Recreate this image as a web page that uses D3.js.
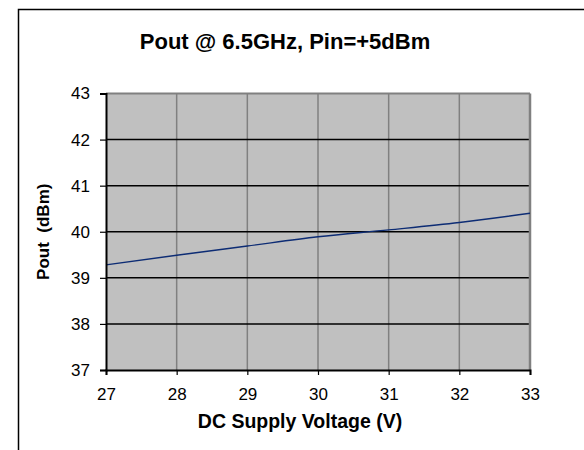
<!DOCTYPE html>
<html>
<head>
<meta charset="utf-8">
<script src="https://cdn.jsdelivr.net/npm/d3@7"></script>
<style>
  html, body { margin: 0; padding: 0; background: #fff; }
  svg { display: block; font-family: "Liberation Sans", Arial, sans-serif; }
</style>
</head>
<body>
<svg id="chart" width="584" height="450"></svg>
<script>
const voltages = [27, 28, 29, 30, 31, 32, 33];
const poutValues = [39.28, 39.49, 39.69, 39.89, 40.04, 40.2, 40.4];
const xTicks = [27, 28, 29, 30, 31, 32, 33];
const yTicks = [37, 38, 39, 40, 41, 42, 43];
const titleText = "Pout @ 6.5GHz, Pin=+5dBm";
const xTitle = "DC Supply Voltage (V)";
const yTitle = "Pout  (dBm)";

const svg = d3.select("#chart");
const plot = { left: 106, right: 530, top: 93.5, bottom: 370 };

// outer chart frame (cut off at right and bottom)
svg.append("rect")
  .attr("x", 18.5).attr("y", 9.5)
  .attr("width", 620).attr("height", 500)
  .attr("fill", "#fff").attr("stroke", "#000").attr("stroke-width", 1.5);

const x = d3.scaleLinear().domain([27, 33]).range([plot.left, plot.right]);
const y = d3.scaleLinear().domain([37, 43]).range([plot.bottom, plot.top]);

// plot background
svg.append("rect")
  .attr("x", plot.left).attr("y", plot.top)
  .attr("width", plot.right - plot.left).attr("height", plot.bottom - plot.top)
  .attr("fill", "#c0c0c0");

// vertical gridlines (gray)
svg.append("g").selectAll("line").data(xTicks.slice(1, -1)).join("line")
  .attr("x1", d => x(d)).attr("x2", d => x(d))
  .attr("y1", plot.top).attr("y2", plot.bottom)
  .attr("stroke", "#808080").attr("stroke-width", 1.5);

// horizontal gridlines (black)
svg.append("g").selectAll("line").data(yTicks.slice(1, -1)).join("line")
  .attr("x1", plot.left).attr("x2", plot.right)
  .attr("y1", d => y(d)).attr("y2", d => y(d))
  .attr("stroke", "#000").attr("stroke-width", 1.5);

// plot border top & right (gray)
svg.append("line").attr("x1", plot.left).attr("x2", plot.right)
  .attr("y1", plot.top).attr("y2", plot.top)
  .attr("stroke", "#808080").attr("stroke-width", 2);
svg.append("line").attr("x1", plot.right).attr("x2", plot.right)
  .attr("y1", plot.top).attr("y2", plot.bottom)
  .attr("stroke", "#808080").attr("stroke-width", 2.5);

// data line
const line = d3.line().x((d, i) => x(voltages[i])).y(d => y(d)).curve(d3.curveMonotoneX);
svg.append("path").datum(poutValues)
  .attr("d", line)
  .attr("fill", "none").attr("stroke", "#0d2c74").attr("stroke-width", 1.4);

// axes
const xAxis = d3.axisBottom(x).tickValues(xTicks).tickSize(5).tickPadding(13).tickFormat(d3.format("d"));
const yAxis = d3.axisLeft(y).tickValues(yTicks).tickSize(6).tickPadding(10).tickFormat(d3.format("d"));

const gx = svg.append("g").attr("transform", `translate(0,${plot.bottom})`).call(xAxis);
const gy = svg.append("g").attr("transform", `translate(${plot.left},0)`).call(yAxis);
[gx, gy].forEach(g => {
  g.select(".domain").attr("stroke", "#000").attr("stroke-width", 2);
  g.selectAll(".tick line").attr("stroke", "#000").attr("stroke-width", 1.2);
  g.selectAll(".tick text")
    .attr("fill", "#000")
    .style("font-family", "'Liberation Sans', Arial, sans-serif")
    .style("font-size", "17px");
});

// title
svg.append("text")
  .attr("x", 285).attr("y", 49)
  .attr("text-anchor", "middle")
  .style("font-size", "22px").style("font-weight", "bold")
  .text(titleText);

// x axis title
svg.append("text")
  .attr("x", 300).attr("y", 428)
  .attr("text-anchor", "middle")
  .style("font-size", "19.5px").style("font-weight", "bold")
  .text(xTitle);

// y axis title
svg.append("text")
  .attr("transform", `translate(49,${(plot.top + plot.bottom) / 2}) rotate(-90)`)
  .attr("text-anchor", "middle")
  .style("font-size", "17px").style("font-weight", "bold")
  .style("white-space", "pre")
  .text(yTitle);
</script>
</body>
</html>
